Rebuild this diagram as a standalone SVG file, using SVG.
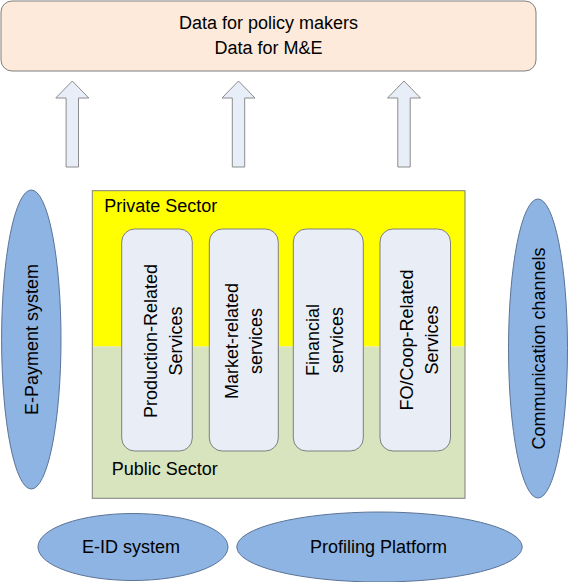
<svg xmlns="http://www.w3.org/2000/svg" width="570" height="582" viewBox="0 0 570 582">
  <style>
    text { font-family: "Liberation Sans", Arial, sans-serif; font-size: 18px; fill: #000; }
    .c { text-anchor: middle; }
    .box { stroke: #7F7F7F; stroke-width: 1; }
    .svc { fill: #E9EEF6; stroke: #7F7F7F; stroke-width: 1; }
    .ell { fill: #8EB4E3; stroke: #5B7396; stroke-width: 1; }
    .arr { fill: #E8EEF7; stroke: #8C8C8C; stroke-width: 1; }
  </style>
  <defs>
    <path id="uparrow" d="M0,81 L16.5,98 L6.2,98 L6.2,167 L-6.2,167 L-6.2,98 L-16.5,98 Z"/>
  </defs>

  <g id="data-box">
    <rect x="1" y="1" width="535" height="70" rx="11" ry="11" fill="#FDEADA" class="box"/>
    <text class="c" x="268.5" y="29">Data for policy makers</text>
    <text class="c" x="268.5" y="54">Data for M&amp;E</text>
  </g>

  <g id="connectors">
    <use href="#uparrow" class="arr" transform="translate(72.3,0)"/>
    <use href="#uparrow" class="arr" transform="translate(238.5,0)"/>
    <use href="#uparrow" class="arr" transform="translate(404,0)"/>
  </g>

  <g id="sectors">
    <rect x="92.3" y="190.7" width="372.7" height="155.8" fill="#FFFF00"/>
    <rect x="92.3" y="346.5" width="372.7" height="151.8" fill="#D7E4BD"/>
    <rect x="92.3" y="190.7" width="372.7" height="307.6" fill="none" class="box"/>
    <text x="104.3" y="212.3">Private Sector</text>
    <text x="111.7" y="475">Public Sector</text>
  </g>

  <g id="production-services">
    <rect x="121.7" y="229" width="70.6" height="222" rx="13" ry="13" class="svc"/>
    <text class="c" transform="translate(157,341) rotate(-90)">Production-Related</text>
    <text class="c" transform="translate(181.5,341) rotate(-90)">Services</text>
  </g>

  <g id="market-services">
    <rect x="209.3" y="229" width="69" height="222" rx="13" ry="13" class="svc"/>
    <text class="c" transform="translate(237.8,341) rotate(-90)">Market-related</text>
    <text class="c" transform="translate(262.3,341) rotate(-90)">services</text>
  </g>

  <g id="financial-services">
    <rect x="293.3" y="229" width="70" height="222" rx="13" ry="13" class="svc"/>
    <text class="c" transform="translate(318.5,340) rotate(-90)">Financial</text>
    <text class="c" transform="translate(343,340) rotate(-90)">services</text>
  </g>

  <g id="fo-coop-services">
    <rect x="380" y="229" width="70.5" height="222" rx="13" ry="13" class="svc"/>
    <text class="c" transform="translate(413,340) rotate(-90)">FO/Coop-Related</text>
    <text class="c" transform="translate(437.5,340) rotate(-90)">Services</text>
  </g>

  <g id="e-payment">
    <ellipse cx="31.3" cy="339.5" rx="29.7" ry="149.5" class="ell"/>
    <text class="c" transform="translate(37.5,339.5) rotate(-90)">E-Payment system</text>
  </g>

  <g id="communication">
    <ellipse cx="538" cy="348.5" rx="29.5" ry="149.5" class="ell"/>
    <text class="c" transform="translate(544.5,348.5) rotate(-90)">Communication channels</text>
  </g>

  <g id="e-id">
    <ellipse cx="133" cy="547" rx="95" ry="33.5" class="ell"/>
    <text class="c" x="131" y="553">E-ID system</text>
  </g>

  <g id="profiling">
    <ellipse cx="379.5" cy="547" rx="142.7" ry="35" class="ell"/>
    <text class="c" x="378.6" y="553">Profiling Platform</text>
  </g>
</svg>
